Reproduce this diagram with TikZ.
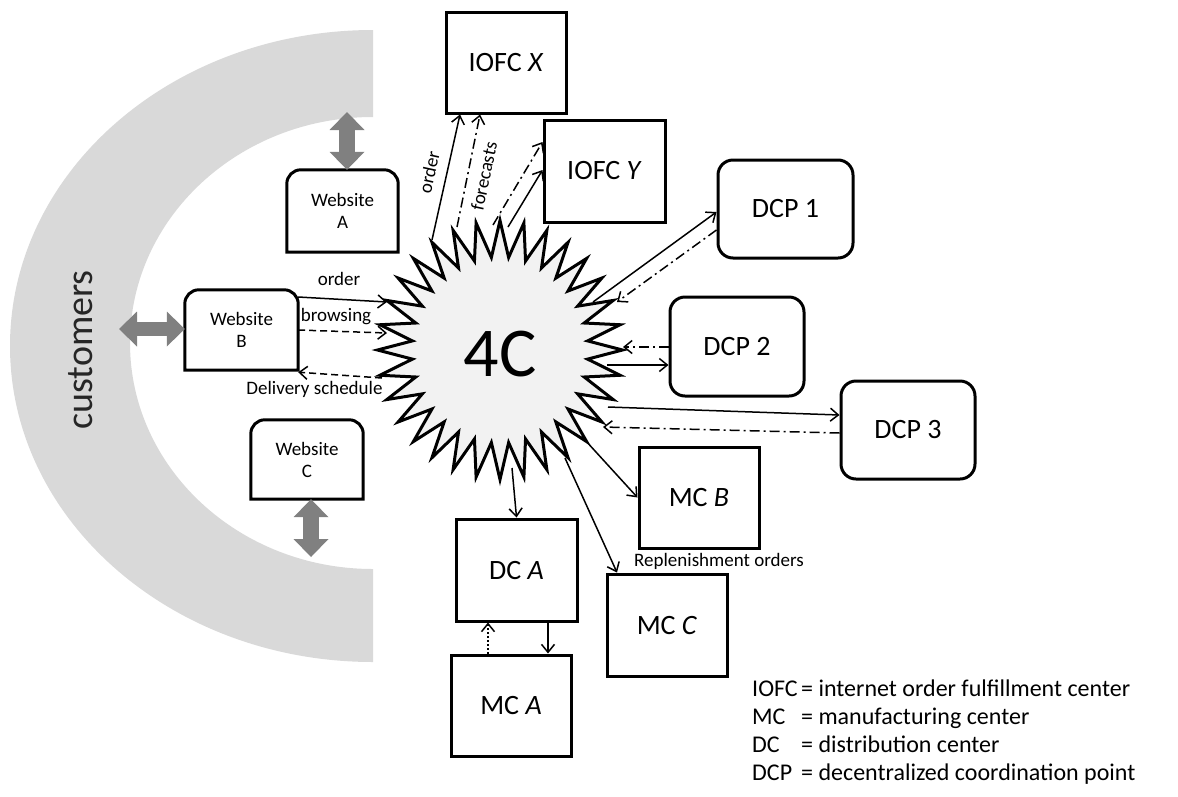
\documentclass[tikz,border=0pt]{standalone}
\usepackage{fontspec}
\setmainfont{Carlito}
\usetikzlibrary{arrows.meta,calc}
\definecolor{ringgray}{HTML}{D9D9D9}
\definecolor{arrgray}{HTML}{808080}
\definecolor{starfill}{HTML}{F2F2F2}
\newcommand\webshape[1]{\draw[line width=3pt] (#1.south west) -- ([yshift=-14pt]#1.north west) arc[start angle=180,end angle=90,radius=14pt] -- ([xshift=-14pt]#1.north east) arc[start angle=90,end angle=0,radius=14pt] -- (#1.south east) -- cycle;}
\begin{document}
\begin{tikzpicture}[x=1pt,y=1pt,
  box/.style={draw, line width=3pt, inner sep=0pt, fill=white, font=\fontsize{28}{32}\selectfont},
  dcpbox/.style={box, rounded corners=15pt},
  web/.style={inner sep=0pt, align=center, font=\fontsize{19}{22}\selectfont},
  garrow/.style={draw=arrgray, line width=16pt, {Triangle[length=18pt,width=35pt,line width=0pt]}-{Triangle[length=18pt,width=35pt,line width=0pt]}},
  flow/.style={line width=1.5pt, -{Straight Barb[length=8pt,width=13pt]}},
  dd/.style={dash pattern=on 10pt off 4pt on 2pt off 4pt},
  ds/.style={dash pattern=on 7pt off 4pt},
  dt/.style={dash pattern=on 2pt off 2pt},
  lbl/.style={font=\fontsize{19}{22}\selectfont, inner sep=0pt},
  leg/.style={font=\fontsize{24}{28}\selectfont, anchor=base west, inner sep=0pt}]
\useasboundingbox (0,0) rectangle (1178,-796);

% customers ring
\fill[ringgray] (373,-30) arc[start angle=90,end angle=270,x radius=363,y radius=316]
  -- (373,-569) arc[start angle=270,end angle=90,x radius=243,y radius=226] -- cycle;
\node[rotate=90, font=\fontsize{38}{40}\selectfont, text=black!85] (cust) at (81,-350) {customers};

% websites
\node[web, minimum width=111pt, minimum height=82pt] (wa) at (342.5,-211) {Website\\A};
\node[web, minimum width=113pt, minimum height=80pt] (wb) at (241.5,-330) {Website\\B};
\node[web, minimum width=112pt, minimum height=79pt] (wc) at (307,-459.5) {Website\\C};
\webshape{wa}
\webshape{wb}
\webshape{wc}

\coordinate (ca) at (347,-112);
\coordinate (cb) at (119,-329);
\coordinate (cc) at (311,-557);
\draw[garrow] (ca) -- ([xshift=4.5pt]wa.north);
\draw[garrow, line width=14pt] (cb) -- ([yshift=1pt]wb.west);
\draw[garrow] ([xshift=4pt]wc.south) -- (cc);

% star hub
\coordinate (hub) at (500,-350);
\draw[line width=3pt, fill=starfill, line join=miter]
  plot[samples at={0,...,63}, variable=\k]
  ({500+ifthenelse(mod(\k,2)==0,122.5,88)*cos(90+\k*5.625)},
   {-350+ifthenelse(mod(\k,2)==0,129.5,93)*sin(90+\k*5.625)}) -- cycle;
\node[font=\fontsize{70}{70}\selectfont, inner sep=0pt] (fourc) at (500,-354) {4C};

% boxes
\node[box, minimum width=120pt, minimum height=101pt] (ix) at (506,-62.5) {IOFC \textit{X}};
\node[box, minimum width=121pt, minimum height=102pt] (iy) at (604.5,-171) {IOFC \textit{Y}};
\node[dcpbox, minimum width=135pt, minimum height=98pt] (d1) at (785.5,-209) {DCP 1};
\node[dcpbox, minimum width=134pt, minimum height=99pt] (d2) at (737,-346.5) {DCP 2};
\node[dcpbox, minimum width=134pt, minimum height=98pt] (d3) at (908,-430) {DCP 3};
\node[box, minimum width=120pt, minimum height=101pt] (mb) at (699,-497.5) {MC \textit{B}};
\node[box, minimum width=121pt, minimum height=102pt] (da) at (516.5,-570) {DC \textit{A}};
\node[box, minimum width=120pt, minimum height=102pt] (mcc) at (667,-625) {MC \textit{C}};
\node[box, minimum width=120pt, minimum height=101pt] (ma) at (511,-705.5) {MC \textit{A}};

% connectors to IOFC
\draw[flow] ($(hub)+(-68,110)$) -- ([xshift=-46pt]ix.south);
\draw[flow,dd] ($(hub)+(-43,123)$) -- ([xshift=-26pt]ix.south);
\node[lbl, rotate=77.6] (lorder) at (429,-172) {order};
\node[lbl, rotate=78] (lfore) at (484,-176) {forecasts};
\draw[flow,dd] ($(hub)+(-7,125)$) -- ([yshift=29pt]iy.west);
\draw[flow] ($(hub)+(8,123)$) -- ([yshift=1pt]iy.west);

% DCPs
\draw[flow] ($(hub)+(93,48)$) -- ([yshift=-3pt]d1.west);
\draw[flow,dd] ([yshift=-21pt]d1.west) -- ($(hub)+(117,48)$);
\draw[flow,dd] ([yshift=-0.5pt]d2.west) -- ($(hub)+(123,3)$);
\draw[flow] ($(hub)+(107,-15)$) -- ([yshift=-18.5pt]d2.west);
\draw[flow] ($(hub)+(108,-57)$) -- ([yshift=15pt]d3.west);
\draw[flow,dd] ([yshift=-3pt]d3.west) -- ($(hub)+(103,-77)$);

% MCs and DC
\draw[flow] ($(hub)+(85,-90)$) -- (mb.west);
\draw[flow] ($(hub)+(65,-108)$) -- ([xshift=-50pt]mcc.north);
\draw[flow] ($(hub)+(12,-118)$) -- (da.north);
\draw[flow] ([xshift=31.5pt]da.south) -- ([xshift=37pt]ma.north);
\draw[flow,dt] ([xshift=-23pt]ma.north) -- ([xshift=-28.5pt]da.south);
\node[lbl] (lrep) at (719,-561) {Replenishment orders};

% website B flows
\draw[flow] ([yshift=33pt]wb.east) -- ($(hub)+(-113,48)$);
\draw[flow,ds] (wb.east) -- ($(hub)+(-113,17)$);
\draw[flow,ds] ($(hub)+(-118,-28)$) -- ([yshift=-2pt]wb.south east);
\node[lbl] (lo) at (339,-279) {order};
\node[lbl] (lb) at (336,-317) {browsing};
\node[lbl] (ld) at (314.5,-389) {Delivery schedule};

% legend
\node[leg] (l1) at (752,-696) {\makebox[49pt][l]{IOFC}= internet order fulfillment center};
\node[leg] (l2) at (752,-724) {\makebox[49pt][l]{MC}= manufacturing center};
\node[leg] (l3) at (752,-752) {\makebox[49pt][l]{DC}= distribution center};
\node[leg] (l4) at (752,-780) {\makebox[49pt][l]{DCP}= decentralized coordination point};
\end{tikzpicture}
\end{document}
